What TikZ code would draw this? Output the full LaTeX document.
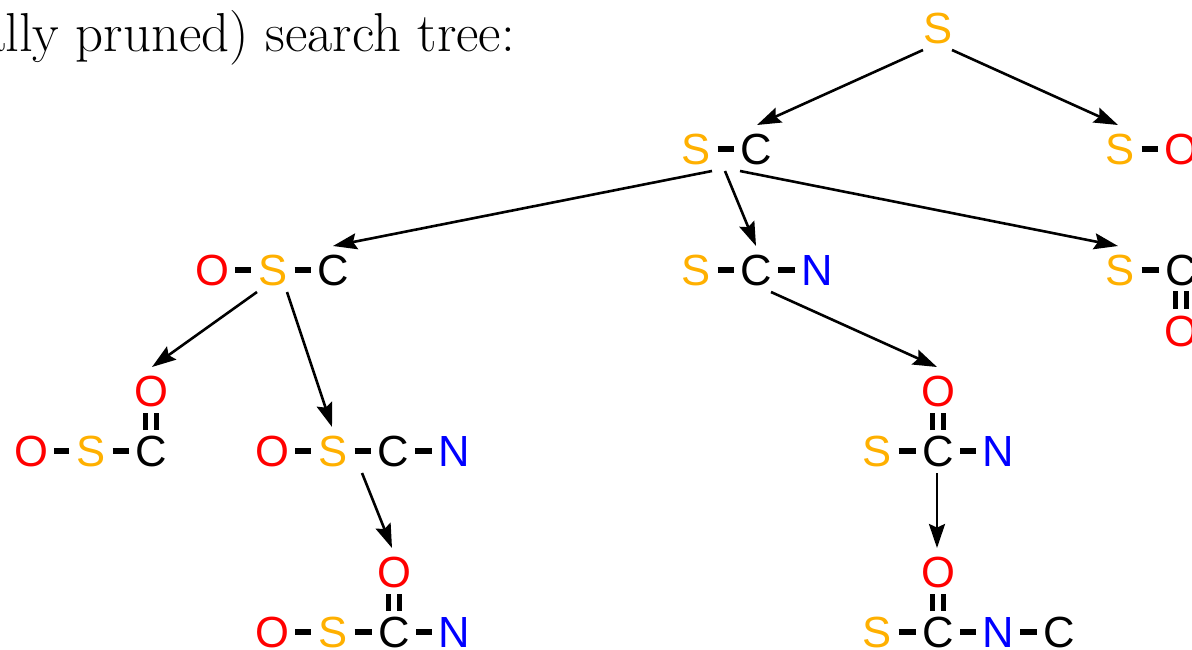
\documentclass[tikz,border=0pt]{standalone}
\usepackage{fontspec}
\setsansfont{Liberation Sans}
\usepackage{xcolor}
\usetikzlibrary{arrows.meta}
\definecolor{tsulfur}{HTML}{FFB000}
\definecolor{toxygen}{HTML}{FF0000}
\definecolor{tnitro}{HTML}{0000FF}
\tikzset{
  atom/.style={circle, inner sep=0pt, minimum size=1.05cm, xshift=0.025cm, font=\sffamily\fontsize{31}{31}\selectfont,
               text height=0.78cm, text depth=0cm},
  satom/.style={atom, text=tsulfur},
  oatom/.style={atom, text=toxygen},
  natom/.style={atom, text=tnitro},
  catom/.style={atom, text=black},
  bond/.style={line width=0.135cm},
  dbond/.style={double, double distance=0.15cm, line width=0.13cm, shorten <=-0.04cm, shorten >=-0.04cm},
  arr/.style={line width=0.065cm, -{Stealth[length=0.6cm,width=0.4cm,inset=0.09cm]}},
}

\begin{document}
\begin{tikzpicture}[x=0.025cm, y=-0.025cm]
    \useasboundingbox (0,0) rectangle (1192,650);
    \node[anchor=base east, font=\fontsize{39}{39}\selectfont, inner sep=0pt] (caption) at (515,52) {ally pruned) search tree:};

    % --- level 0 --------------------------------------------------------
    \node[satom] (rootS) at (937,28) {S};

    % --- level 1 --------------------------------------------------------
    \node[satom] (aS) at (695,149) {S};
    \node[catom] (aC) at (755,149) {C};
    \node[satom] (bS) at (1119,149) {S};
    \node[oatom] (bO) at (1180,149) {O};
    \draw[bond] (aS) -- (aC);
    \draw[bond] (bS) -- (bO);

    % --- level 2 --------------------------------------------------------
    \node[oatom] (cO) at (211,270) {O};
    \node[satom] (cS) at (272,270) {S};
    \node[catom] (cC) at (332,270) {C};
    \draw[bond] (cO) -- (cS);
    \draw[bond] (cS) -- (cC);
    \node[satom] (dS) at (695,270) {S};
    \node[catom] (dC) at (755,270) {C};
    \node[natom] (dN) at (816,270) {N};
    \draw[bond] (dS) -- (dC);
    \draw[bond] (dC) -- (dN);
    \node[satom] (eS) at (1119,270) {S};
    \node[catom] (eC) at (1180,270) {C};
    \node[oatom] (eO) at (1180,331) {O};
    \draw[bond] (eS) -- (eC);
    \draw[dbond] (eC) -- (eO);

    % --- level 3 --------------------------------------------------------
    \node[oatom] (fT) at (150,391) {O};
    \node[oatom] (fO) at (30,451) {O};
    \node[satom] (fS) at (90,451) {S};
    \node[catom] (fC) at (150,451) {C};
    \draw[bond] (fO) -- (fS);
    \draw[bond] (fS) -- (fC);
    \draw[dbond] (fC) -- (fT);
    \node[oatom] (gO) at (271,451) {O};
    \node[satom] (gS) at (332,451) {S};
    \node[catom] (gC) at (392,451) {C};
    \node[natom] (gN) at (453,451) {N};
    \draw[bond] (gO) -- (gS);
    \draw[bond] (gS) -- (gC);
    \draw[bond] (gC) -- (gN);
    \node[oatom] (hT) at (937,391) {O};
    \node[satom] (hS) at (876,451) {S};
    \node[catom] (hC) at (937,451) {C};
    \node[natom] (hN) at (997,451) {N};
    \draw[bond] (hS) -- (hC);
    \draw[bond] (hC) -- (hN);
    \draw[dbond] (hC) -- (hT);

    % --- level 4 --------------------------------------------------------
    \node[oatom] (iT) at (393,572) {O};
    \node[oatom] (iO) at (271,632) {O};
    \node[satom] (iS) at (332,632) {S};
    \node[catom] (iC) at (393,632) {C};
    \node[natom] (iN) at (453,632) {N};
    \draw[bond] (iO) -- (iS);
    \draw[bond] (iS) -- (iC);
    \draw[bond] (iC) -- (iN);
    \draw[dbond] (iC) -- (iT);
    \node[oatom] (jT) at (937,572) {O};
    \node[satom] (jS) at (876,632) {S};
    \node[catom] (jC) at (937,632) {C};
    \node[natom] (jN) at (997,632) {N};
    \node[catom] (jD) at (1058,632) {C};
    \draw[bond] (jS) -- (jC);
    \draw[bond] (jC) -- (jN);
    \draw[bond] (jN) -- (jD);
    \draw[dbond] (jC) -- (jT);

    % --- search tree edges -----------------------------------------------
    \draw[arr] ([shift={(-15,22)}]rootS.center) -- ([shift={(1,-24)}]aC.center);
    \draw[arr] ([shift={(14,22)}]rootS.center) -- ([shift={(-2,-24)}]bS.center);
    \draw[arr] ([shift={(16,22)}]aS.center) -- ([shift={(0,-24)}]cC.center);
    \draw[arr] ([shift={(-31,22)}]aC.center) -- ([shift={(0,-24)}]dC.center);
    \draw[arr] ([shift={(-16,22)}]aC.center) -- ([shift={(-2,-24)}]eS.center);
    \draw[arr] ([shift={(-16,22)}]cS.center) -- ([shift={(1,-24)}]fT.center);
    \draw[arr] ([shift={(14,22)}]cS.center) -- ([shift={(-1,-24)}]gS.center);
    \draw[arr] ([shift={(15,22)}]dC.center) -- ([shift={(-1,-24)}]hT.center);
    \draw[arr] ([shift={(-31,22)}]gC.center) -- ([shift={(-2,-24)}]iT.center);
    \draw[arr] ([shift={(-1,22)}]hC.center) -- ([shift={(-1,-24)}]jT.center);
\end{tikzpicture}
\end{document}
